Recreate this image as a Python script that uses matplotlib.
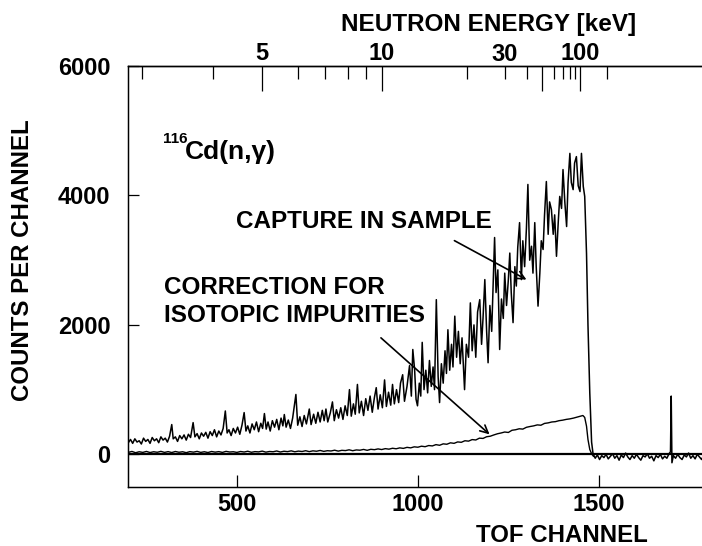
import numpy as np
import matplotlib
matplotlib.use("Agg")
import matplotlib.pyplot as plt

plt.rcParams["font.family"] = ["Liberation Sans", "DejaVu Sans"]
plt.rcParams["font.weight"] = "bold"

# --- dane ---
# widmo: wychwyt w próbce (kanał TOF, zliczenia)
cap_ch = [200, 206, 212, 218, 224, 230, 236, 242, 248, 254, 260, 266, 272, 278, 284, 290, 296, 302, 308, 314,
          320, 324, 330, 336, 342, 348, 354, 360, 366, 372, 379, 384, 390, 396, 402, 408, 414, 420, 426, 432,
          438, 444, 450, 456, 462, 468, 473, 478, 484, 490, 496, 502, 508, 514, 520, 525, 530, 536, 542, 548,
          554, 560, 566, 571, 576, 581, 586, 592, 598, 604, 610, 616, 622, 627, 631, 636, 642, 648, 654, 663,
          668, 674, 680, 686, 692, 700, 705, 712, 718, 724, 730, 736, 741, 746, 751, 758, 764, 769, 775, 781,
          787, 793, 799, 805, 811, 816, 822, 827, 833, 838, 844, 850, 856, 862, 868, 874, 880, 885, 890, 896,
          902, 908, 913, 919, 925, 930, 935, 941, 947, 952, 958, 963, 970, 977, 982, 986, 991, 995, 999, 1004,
          1008, 1012, 1017, 1022, 1027, 1032, 1037, 1042, 1046, 1051, 1056, 1060, 1065, 1070, 1075, 1079, 1083, 1088, 1093, 1097,
          1102, 1107, 1112, 1117, 1122, 1129, 1134, 1140, 1145, 1150, 1155, 1160, 1165, 1171, 1176, 1180, 1185, 1190, 1194, 1199,
          1204, 1208, 1212, 1216, 1221, 1226, 1231, 1236, 1240, 1245, 1250, 1254, 1258, 1263, 1268, 1272, 1276, 1281, 1286, 1290,
          1295, 1300, 1304, 1309, 1314, 1318, 1323, 1327, 1332, 1337, 1341, 1346, 1350, 1355, 1360, 1364, 1369, 1374, 1378, 1383,
          1388, 1392, 1397, 1401, 1406, 1411, 1415, 1420, 1424, 1429, 1433, 1438, 1443, 1448, 1452, 1457, 1461, 1466, 1470, 1475,
          1480, 1484, 1490, 1496, 1502, 1508, 1514, 1520, 1526, 1532, 1538, 1544, 1550, 1556, 1562, 1568, 1574, 1580, 1586, 1592,
          1598, 1604, 1610, 1616, 1622, 1628, 1634, 1640, 1646, 1652, 1658, 1664, 1670, 1676, 1682, 1688, 1694, 1698, 1700, 1702,
          1706, 1712, 1718, 1724, 1730, 1736, 1742, 1748, 1754, 1760, 1766, 1772, 1778, 1784, 1790, 1796, 1800]
cap_counts = [180, 230, 170, 240, 190, 210, 160, 250, 200, 230, 170, 260, 210, 240, 180, 270, 220, 250, 190, 280,
              460, 240, 270, 200, 290, 240, 300, 220, 310, 260, 490, 270, 320, 240, 330, 280, 340, 250, 350, 290,
              380, 270, 360, 300, 400, 670, 330, 380, 290, 400, 330, 420, 310, 450, 645, 360, 440, 330, 470, 380,
              500, 350, 480, 400, 630, 390, 500, 360, 520, 420, 540, 380, 560, 440, 615, 420, 530, 400, 560, 925,
              450, 580, 430, 600, 470, 700, 460, 620, 480, 650, 500, 680, 520, 700, 500, 640, 810, 520, 690, 560,
              720, 540, 750, 600, 1000, 590, 780, 620, 1080, 640, 820, 600, 860, 680, 900, 650, 880, 1030, 700, 920,
              720, 1150, 740, 960, 760, 1080, 780, 1000, 800, 1100, 1230, 820, 1050, 1370, 900, 1620, 1310, 850, 750, 1100,
              900, 1730, 1000, 1300, 950, 1450, 1050, 1350, 1000, 2390, 1200, 800, 1400, 1100, 1600, 1250, 1925, 1300, 1700, 1350,
              2135, 1500, 1900, 1400, 1800, 1000, 1700, 1500, 2340, 1600, 2000, 1500, 2200, 2390, 1700, 2100, 2700, 1900, 1415, 2300,
              1900, 2600, 3350, 2500, 2850, 1620, 2400, 2100, 2800, 2300, 2700, 3110, 2500, 2035, 2900, 2600, 3200, 3580, 2700, 3300,
              2900, 3500, 4170, 3000, 3215, 2800, 3580, 2900, 2290, 2800, 3300, 3165, 3700, 4215, 3400, 3900, 3780, 3400, 3700, 3060,
              3600, 3985, 3800, 4400, 3900, 3520, 4200, 4650, 4200, 4090, 4500, 4600, 4150, 4060, 4650, 4140, 3985, 3100, 2000, 950,
              190, 10, -60, -10, -80, -20, -50, 0, -70, -30, 10, -60, -20, -90, -10, -50, 20, -40, -80, -20,
              -60, 0, -50, -90, -20, -40, 10, -60, -30, -100, -20, -50, 0, -70, -30, -60, 10, 40, 900, -130,
              -20, -60, 0, -50, -80, -10, -40, 20, -60, -20, -70, 0, -40, -80, -10, -50, -30]

# poprawka na zanieczyszczenia izotopowe
corr_ch = [200, 210, 220, 230, 240, 250, 260, 270, 280, 290, 300, 310, 320, 330, 340, 350, 360, 370, 380, 390,
           400, 410, 420, 430, 440, 450, 460, 470, 480, 490, 500, 510, 520, 530, 540, 550, 560, 570, 580, 590,
           600, 610, 620, 630, 640, 650, 660, 670, 680, 690, 700, 710, 720, 730, 740, 750, 760, 770, 780, 790,
           800, 810, 820, 830, 840, 850, 860, 870, 880, 890, 900, 910, 920, 930, 940, 950, 960, 970, 980, 990,
           1000, 1010, 1020, 1030, 1040, 1050, 1060, 1070, 1080, 1090, 1100, 1110, 1120, 1130, 1140, 1150, 1160, 1170, 1180, 1190,
           1200, 1210, 1220, 1230, 1240, 1250, 1260, 1270, 1280, 1290, 1300, 1310, 1320, 1330, 1340, 1350, 1360, 1370, 1380, 1390,
           1400, 1410, 1420, 1430, 1440, 1450, 1456, 1461, 1466, 1470, 1475, 1480, 1485]
corr_counts = [30, 45, 25, 40, 30, 45, 28, 40, 32, 46, 30, 42, 28, 44, 32, 40, 26, 42, 34, 46,
               30, 40, 28, 44, 34, 42, 30, 46, 36, 40, 30, 44, 36, 48, 32, 42, 38, 50, 34, 44,
               40, 52, 36, 48, 42, 54, 40, 50, 44, 56, 42, 54, 48, 60, 46, 56, 52, 64, 50, 62,
               58, 70, 56, 68, 64, 76, 62, 78, 72, 84, 74, 88, 80, 94, 86, 100, 92, 108, 100, 116,
               110, 126, 118, 136, 130, 150, 140, 162, 156, 178, 170, 192, 186, 210, 204, 228, 222, 250, 246, 272,
               280, 300, 318, 330, 345, 338, 372, 380, 395, 390, 418, 430, 440, 455, 450, 478, 486, 500, 505, 520,
               528, 540, 548, 560, 575, 590, 600, 570, 435, 230, 75, 10, -30]

# oś energii neutronów (keV)
e_long = [5, 10, 50, 100]
e_short = [3, 4, 6, 7, 8, 9, 20, 30, 40, 60, 70, 80, 90, 200]

# kanał odpowiadający energii: E ~ 1/(T0 - ch)^2
T0, K = 1702.6, 2534.8


def e_to_ch(e):
    return T0 - K / np.sqrt(np.asarray(e, dtype=float))


fig = plt.figure(figsize=(7.02, 5.46), dpi=100)
ax = fig.add_axes([0.1828, 0.1086, 0.8249, 0.7705])

ax.axhline(0, color="black", linewidth=1.6, zorder=1)
ax.plot(corr_ch, corr_counts, color="black", linewidth=1.0, zorder=2)
ax.plot(cap_ch, cap_counts, color="black", linewidth=1.1, zorder=3)

ax.set_xlim(200, 1800)
ax.set_ylim(-500, 6000)
ax.set_xticks([500, 1000, 1500])
ax.set_yticks([0, 2000, 4000, 6000])
ax.tick_params(axis="x", direction="in", length=9, width=0.9, pad=4.5, labelsize=17)
ax.tick_params(axis="y", direction="in", length=8, width=0.9, pad=13, labelsize=17)
for s in ax.spines.values():
    s.set_linewidth(1.0)

# górna oś: energia
ax2 = ax.twiny()
ax2.set_xlim(ax.get_xlim())
ax2.set_xticks(e_to_ch(e_long))
ax2.set_xticklabels(["5", "10", "", "100"])
ax2.set_xticks(e_to_ch(e_short), minor=True)
ax2.tick_params(axis="x", which="major", direction="in", length=18, width=0.9, pad=1, labelsize=17)
ax2.tick_params(axis="x", which="minor", direction="in", length=9, width=0.9)
ax2.text(e_to_ch([30])[0], 1.0, "30", transform=ax2.get_xaxis_transform(),
         ha="center", va="bottom", fontsize=17, fontweight="bold")
ax2.spines["top"].set_linewidth(1.0)

# opisy osi
fig.text(489 / 702, 1 - 25 / 546, "NEUTRON ENERGY [keV]", ha="center", va="center", fontsize=17.5)
fig.text(562 / 702, 1 - 535 / 546, "TOF CHANNEL", ha="center", va="center", fontsize=17.3)
fig.text(22.5 / 702, 1 - 260 / 546, "COUNTS PER CHANNEL", ha="center", va="center",
         rotation=90, fontsize=17.3)

# reakcja
ax.text(0.060, 0.817, "116", transform=ax.transAxes, fontsize=11, ha="left", va="baseline")
ax.text(0.097, 0.778, "Cd(n,γ)", transform=ax.transAxes, fontsize=19, ha="left", va="baseline")

# adnotacje ze strzałkami
ax.text(498, 3590, "CAPTURE IN SAMPLE", fontsize=17.5, ha="left", va="center")
ax.annotate("", xy=(1300, 2700), xytext=(1101, 3302),
            arrowprops=dict(arrowstyle="->", lw=1.2, color="black", shrinkA=0, shrinkB=0,
                            mutation_scale=14))
ax.text(299, 2360, "CORRECTION FOR\nISOTOPIC IMPURITIES", fontsize=17.5, ha="left", va="center",
        linespacing=1.3)
ax.annotate("", xy=(1198, 309), xytext=(898, 1800),
            arrowprops=dict(arrowstyle="->", lw=1.2, color="black", shrinkA=0, shrinkB=0,
                            mutation_scale=14))

fig.savefig("out.png", dpi=100)
